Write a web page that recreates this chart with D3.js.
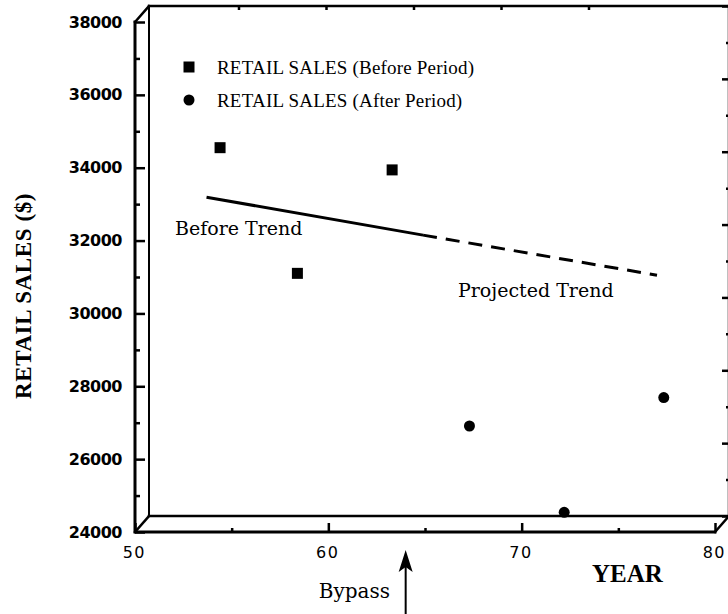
<!DOCTYPE html>
<html>
<head>
<meta charset="utf-8">
<script src="https://cdn.jsdelivr.net/npm/d3@7"></script>
<style>
  html, body { margin: 0; padding: 0; background: #fff; }
  svg { display: block; }
</style>
</head>
<body>
<svg id="chart" width="728" height="614"></svg>
<script>
// ---------------- data ----------------
const beforeYears = [54.4, 58.4, 63.3];
const beforeSales = [34550, 31100, 33940];
const afterYears  = [67.3, 72.2, 77.35];
const afterSales  = [26910, 24540, 27690];
const trendYears  = [53.7, 64.9];
const trendSales  = [33190, 32150];
const projYears   = [64.9, 77.0];
const projSales   = [32150, 31050];
const bypassYear  = 64;
const yMajorTicks = [24000, 26000, 28000, 30000, 32000, 34000, 36000, 38000];
const yMinorTicks = [25000, 27000, 29000, 31000, 33000, 35000, 37000];
const xMajorTicks = [50, 60, 70, 80];
const xMinorTicks = [55, 65, 75];
const topTicks    = [55, 60, 65, 70, 75];
const legendLabels = ["RETAIL SALES (Before Period)", "RETAIL SALES (After Period)"];

// ---------------- scales ----------------
const svg = d3.select("#chart");
const x = d3.scaleLinear().domain([50, 80]).range([135, 715]);
const y = d3.scaleLinear().domain([24000, 38000]).range([532, 22]);
const DX = 14, DY = -16;               // depth offset of the back wall
const xb = d3.scaleLinear().domain([50, 80]).range([135 + DX, 715 + DX]);
const yb = d3.scaleLinear().domain([24000, 38000]).range([532 + DY, 22 + DY]);
const xTop = d3.scaleLinear().domain([50, 80]).range([151, 676]);

const line = d3.line();
const sans = "'DejaVu Sans', sans-serif";
const serif = "'DejaVu Serif', serif";
const times = "'Liberation Serif', 'Times New Roman', serif";

// ---------------- box ----------------
const box = svg.append("g").attr("fill", "none").attr("stroke", "#000").attr("stroke-linecap", "square");
// back wall
box.append("path").attr("stroke-width", 2)
  .attr("d", line([[xb(50), yb(24000)], [xb(50), yb(38000)]]));
box.append("path").attr("stroke-width", 2.5)
  .attr("d", line([[xb(50), yb(38000)], [xb(80), yb(38000)]]));
box.append("path").attr("stroke-width", 2.5)
  .attr("d", line([[xb(50), yb(24000)], [xb(80), yb(24000)]]));
box.append("path").attr("stroke-width", 2.5)
  .attr("d", line([[xb(80), yb(24000)], [xb(80), yb(38000)]]));
// front axes
box.append("path").attr("stroke-width", 3)
  .attr("d", line([[x(50), y(38000)], [x(50), y(24000)], [x(80), y(24000)]]));
// depth diagonals
[[50, 38000], [50, 24000], [80, 24000]].forEach(([a, b]) => {
  box.append("path").attr("stroke-width", 2.5)
    .attr("d", line([[x(a), y(b)], [xb(a), yb(b)]]));
});

// ---------------- axes ----------------
function clean(g) { g.select(".domain").remove(); g.selectAll("line").attr("stroke", "#000").attr("stroke-width", 2.5); }

svg.append("g").attr("transform", `translate(${x(50)},0)`)
  .call(d3.axisLeft(y).tickValues(yMajorTicks).tickSize(-10).tickPadding(13).tickFormat(d3.format("d")))
  .call(clean)
  .call(g => g.selectAll("text").attr("font-family", sans).attr("font-weight", "bold")
    .attr("font-size", 16).attr("letter-spacing", "-0.5px").attr("fill", "#000"));
svg.append("g").attr("transform", `translate(${x(50)},0)`)
  .call(d3.axisLeft(y).tickValues(yMinorTicks).tickSize(-5).tickFormat(""))
  .call(clean);

svg.append("g").attr("transform", `translate(0,${y(24000)})`)
  .call(d3.axisBottom(x).tickValues(xMajorTicks).tickSize(-9).tickPadding(15).tickFormat(d3.format("d")))
  .call(clean)
  .call(g => g.selectAll("text").attr("font-family", sans).attr("font-size", 16)
    .attr("letter-spacing", "1.5px").attr("dx", "-1.2px").attr("fill", "#000"));
svg.append("g").attr("transform", `translate(0,${y(24000)})`)
  .call(d3.axisBottom(x).tickValues(xMinorTicks).tickSize(-4).tickFormat(""))
  .call(clean);

// back right wall ticks
svg.append("g").attr("transform", `translate(${xb(80)},0)`)
  .call(d3.axisRight(yb).tickValues(yMajorTicks).tickSize(-7).tickFormat(""))
  .call(clean);
svg.append("g").attr("transform", `translate(${xb(80)},0)`)
  .call(d3.axisRight(yb).tickValues(yMinorTicks).tickSize(-3).tickFormat(""))
  .call(clean);
// back top ticks
svg.append("g").attr("transform", `translate(0,${yb(38000)})`)
  .call(d3.axisTop(xTop).tickValues(topTicks).tickSize(-4).tickFormat(""))
  .call(clean);

// ---------------- trend lines ----------------
svg.append("path")
  .attr("d", line(trendYears.map((d, i) => [x(d), y(trendSales[i])])))
  .attr("fill", "none").attr("stroke", "#000").attr("stroke-width", 3);
svg.append("path")
  .attr("d", line(projYears.map((d, i) => [x(d), y(projSales[i])])))
  .attr("fill", "none").attr("stroke", "#000").attr("stroke-width", 3)
  .attr("stroke-dasharray", "14,9");

// ---------------- points ----------------
const S = 11;
svg.append("g").selectAll("rect").data(beforeYears).join("rect")
  .attr("x", (d) => x(d) - S / 2)
  .attr("y", (d, i) => y(beforeSales[i]) - S / 2)
  .attr("width", S).attr("height", S).attr("fill", "#000");
svg.append("g").selectAll("circle").data(afterYears).join("circle")
  .attr("cx", (d) => x(d))
  .attr("cy", (d, i) => y(afterSales[i]))
  .attr("r", 5.5).attr("fill", "#000");

// ---------------- legend ----------------
const lg = svg.append("g").attr("transform", "translate(189,67)");
lg.append("rect").attr("x", -5.5).attr("y", -5.5).attr("width", 11).attr("height", 11).attr("fill", "#000");
lg.append("circle").attr("cx", 0).attr("cy", 33).attr("r", 5.5).attr("fill", "#000");
lg.selectAll("text").data(legendLabels).join("text")
  .attr("x", 28).attr("y", (d, i) => i * 33).attr("dy", "0.35em")
  .attr("font-family", times).attr("font-size", 19).attr("letter-spacing", "0.2px")
  .text(d => d);

// ---------------- annotations ----------------
svg.append("text").attr("x", 175).attr("y", 235)
  .attr("font-family", serif).attr("font-size", 19).text("Before Trend");
svg.append("text").attr("x", 458).attr("y", 297)
  .attr("font-family", serif).attr("font-size", 19).text("Projected Trend");

// axis titles
svg.append("text")
  .attr("transform", "translate(31,296) rotate(-90)")
  .attr("text-anchor", "middle")
  .attr("font-family", times).attr("font-weight", "bold").attr("font-size", 23)
  .attr("letter-spacing", "0.6px")
  .text("RETAIL SALES ($)");
svg.append("text").attr("x", 592).attr("y", 582)
  .attr("font-family", times).attr("font-weight", "bold").attr("font-size", 25)
  .text("YEAR");

// bypass arrow
const ax = x(bypassYear);
svg.append("path").attr("d", line([[ax, 614], [ax, 562]]))
  .attr("stroke", "#000").attr("stroke-width", 2);
svg.append("path").attr("d", line([[ax, 550], [ax - 7, 572], [ax, 567], [ax + 7, 572]]) + "Z")
  .attr("fill", "#000");
svg.append("text").attr("x", 390).attr("y", 598).attr("text-anchor", "end")
  .attr("font-family", serif).attr("font-size", 20).text("Bypass");
</script>
</body>
</html>
